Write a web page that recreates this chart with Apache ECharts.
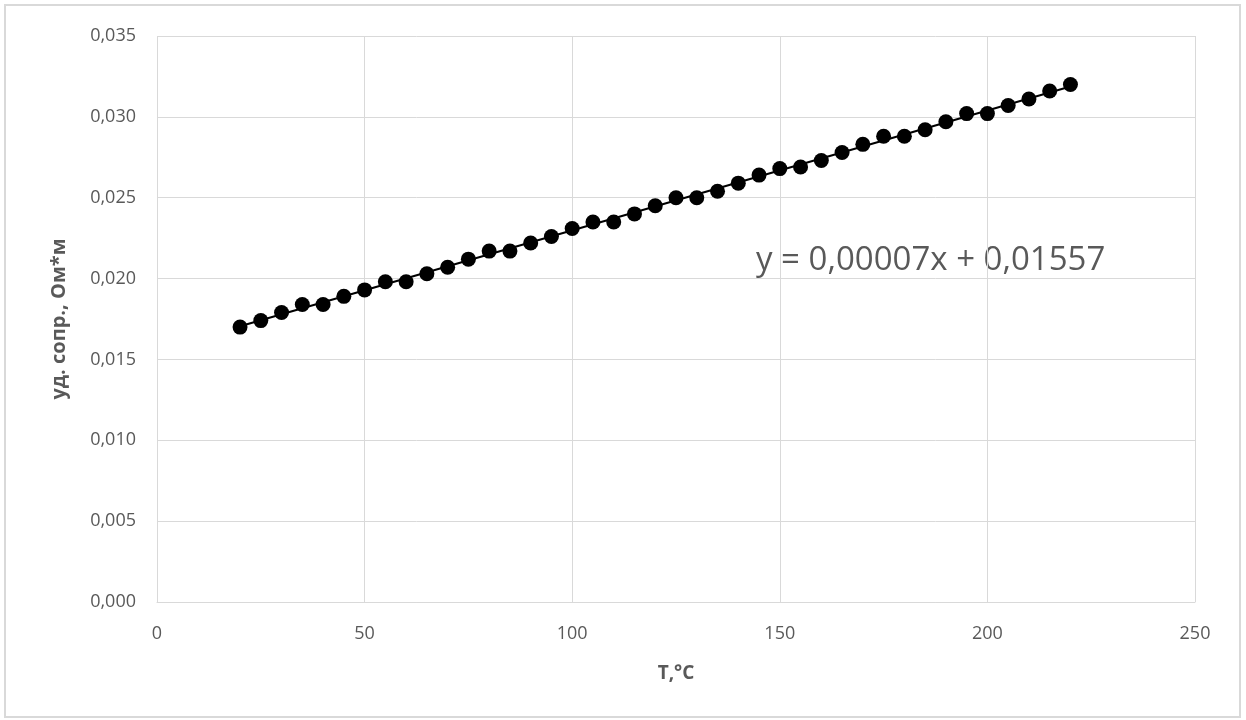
<!DOCTYPE html>
<html><head><meta charset="utf-8">
<script src="https://cdn.jsdelivr.net/npm/echarts@6/dist/echarts.min.js"></script>
<style>html,body{margin:0;padding:0;background:#fff;}#c{width:1246px;height:720px;}</style>
</head><body><div id="c"></div>
<script>
const temps = [20,25,30,35,40,45,50,55,60,65,70,75,80,85,90,95,100,105,110,115,120,125,130,135,140,145,150,155,160,165,170,175,180,185,190,195,200,205,210,215,220];
const resist = [0.0170,0.0174,0.0179,0.0184,0.0184,0.0189,0.0193,0.0198,0.0198,0.0203,0.0207,0.0212,0.0217,0.0217,0.0222,0.0226,0.0231,0.0235,0.0235,0.0240,0.0245,0.0250,0.0250,0.0254,0.0259,0.0264,0.0268,0.0269,0.0273,0.0278,0.0283,0.0288,0.0288,0.0292,0.0297,0.0302,0.0302,0.0307,0.0311,0.0316,0.0320];
const xTicks = [0,50,100,150,200,250];
const yTicks = [0,0.005,0.010,0.015,0.020,0.025,0.030,0.035];
const equationText = 'y = 0,00007x + 0,01557';
const xTitle = 'T,°C';
const yTitle = 'уд. сопр., Ом*м';

// least squares trendline
const n = temps.length;
let sx=0, sy=0, sxx=0, sxy=0;
for (let i=0;i<n;i++){sx+=temps[i];sy+=resist[i];sxx+=temps[i]*temps[i];sxy+=temps[i]*resist[i];}
const slope = (n*sxy - sx*sy)/(n*sxx - sx*sx);
const icpt = (sy - slope*sx)/n;
const xMinD = temps[0], xMaxD = temps[n-1];
const trend = [[xMinD, icpt+slope*xMinD],[xMaxD, icpt+slope*xMaxD]];

const font = 'Open Sans, Liberation Sans, sans-serif';
const chart = echarts.init(document.getElementById('c'));
chart.setOption({
  animation:false,
  backgroundColor:'#fff',
  grid:{left:157,right:51,top:36,bottom:118,containLabel:false},
  xAxis:{type:'value',min:xTicks[0],max:xTicks[xTicks.length-1],interval:50,
    name:xTitle,nameLocation:'middle',nameGap:62,
    nameTextStyle:{color:'#595959',fontSize:19,fontWeight:'bold',fontFamily:font},
    axisLine:{show:true,lineStyle:{color:'#d9d9d9',width:1}},axisTick:{show:false},
    axisLabel:{color:'#595959',fontSize:18,fontFamily:font,margin:23},
    splitLine:{show:true,lineStyle:{color:'#d9d9d9',width:1}}},
  yAxis:{type:'value',min:yTicks[0],max:yTicks[yTicks.length-1],interval:0.005,
    name:yTitle,nameLocation:'middle',nameGap:88,nameRotate:90,
    nameTextStyle:{color:'#595959',fontSize:20,fontWeight:'bold',fontFamily:font},
    axisLine:{show:false},axisTick:{show:false},
    axisLabel:{color:'#595959',fontSize:18,fontFamily:font,margin:21,
      formatter:v=>v.toFixed(3).replace('.',',')},
    splitLine:{show:true,lineStyle:{color:'#d9d9d9',width:1}}},
  series:[
    {type:'line',data:trend,symbol:'none',lineStyle:{color:'#000',width:2},z:2,silent:true},
    {type:'scatter',data:temps.map((t,i)=>[t,resist[i]]),symbol:'circle',symbolSize:15,
     itemStyle:{color:'#000',opacity:1},z:3}
  ],
  graphic:[
    {type:'rect',shape:{x:5,y:5,width:1235,height:712},style:{fill:'none',stroke:'#d9d9d9',lineWidth:2},z:-1},
    {type:'text',left:756,top:244,style:{text:equationText,fill:'#595959',font:'33px '+font,letterSpacing:0.3}}
  ]
});
</script></body></html>
